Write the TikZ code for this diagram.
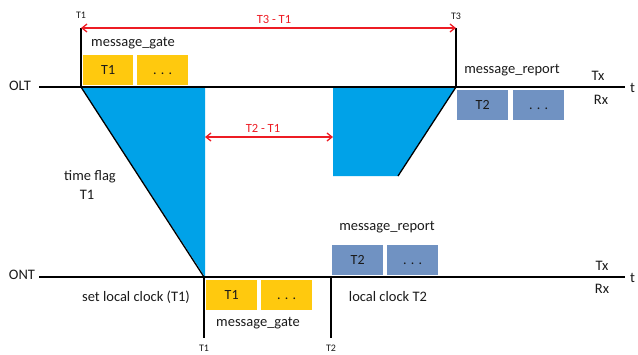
\documentclass[tikz,border=0pt]{standalone}
\usepackage{fontspec}
\setmainfont{Carlito}
\usetikzlibrary{arrows.meta}
\definecolor{gold}{HTML}{FFC90E}
\definecolor{sky}{HTML}{00A2E8}
\definecolor{steel}{HTML}{7092C2}
\definecolor{redline}{HTML}{ED1C24}
\definecolor{txt}{HTML}{1A1A1A}
\tikzset{
  lbl/.style={font=\fontsize{14.5}{17}\selectfont, text=txt, inner sep=0pt},
  tick/.style={font=\fontsize{10}{12}\selectfont, text=txt, inner sep=0pt},
  redlbl/.style={font=\fontsize{12.5}{15}\selectfont, text=redline, inner sep=0pt},
  axis/.style={line width=1.5pt, black},
  marker/.style={line width=1.3pt, black},
  gatebox/.style={fill=gold, draw=none, minimum width=50pt, minimum height=30pt, inner sep=0pt, text height=9pt, text depth=0pt, anchor=north west, font=\fontsize{14}{16}\selectfont, text=txt},
  repbox/.style={fill=steel, draw=none, minimum width=51pt, minimum height=30pt, inner sep=0pt, text height=9pt, text depth=0pt, anchor=north west, font=\fontsize{14}{16}\selectfont, text=txt},
  span/.style={redline, line width=1.3pt, {Straight Barb[length=5pt,width=8pt]}-{Straight Barb[length=5pt,width=8pt]}},
  slope/.style={line width=1.3pt, black},
}
\begin{document}
\begin{tikzpicture}[x=1pt,y=-1pt]
\useasboundingbox (0,0) rectangle (638,354);
% key points
\coordinate (oltL) at (39,87);
\coordinate (oltR) at (625,87);
\coordinate (ontL) at (39,277);
\coordinate (ontR) at (625,277);
\coordinate (t1top) at (81,28);
\coordinate (t1olt) at (81,87);
\coordinate (t3top) at (456,28);
\coordinate (t3olt) at (456,87);
\coordinate (t1ont) at (204,277);
\coordinate (t1bot) at (204,338);
\coordinate (t2ont) at (331,277);
\coordinate (t2bot) at (331,338);
% blue shapes
\fill[sky] (81,87) -- (205,87) -- (205,277) -- cycle;
\fill[sky] (333,87) -- (456,87) -- (398,176) -- (333,176) -- cycle;
\draw[slope] (t1olt) -- (t1ont);
\draw[slope] (t3olt) -- (398,176);
% axes
\draw[axis] (oltL) -- (oltR);
\draw[axis] (ontL) -- (ontR);
\node[lbl, anchor=west] (tolt) at (630,88) {t};
\node[lbl, anchor=west] (tont) at (630,278) {t};
\node[lbl] (olt) at (20,86) {OLT};
\node[lbl] (ont) at (22,275) {ONT};
% time markers
\draw[marker] (t1top) -- (t1olt);
\draw[marker] (t3top) -- (t3olt);
\draw[marker] (t1ont) -- (t1bot);
\draw[marker] (t2ont) -- (t2bot);
\node[tick] (lt1a) at (81,15) {T1};
\node[tick] (lt3) at (456,16) {T3};
\node[tick] (lt1b) at (204,348) {T1};
\node[tick] (lt2) at (331,348) {T2};
% red spans
\draw[span] (t1top) -- (t3top);
\node[redlbl] (s31) at (274,19) {T3 - T1};
\coordinate (s21a) at (205,137);
\coordinate (s21b) at (333,137);
\draw[span] (s21a) -- (s21b);
\node[redlbl] (s21) at (263,128) {T2 - T1};
% OLT boxes
\node[lbl] (mg1) at (133,43) {message\_gate};
\node[gatebox] (g1) at (83,55) {T1};
\node[gatebox, minimum width=51pt] (g2) at (137,55) {. . .};
\node[lbl] (mr1) at (512,70) {message\_report};
\node[repbox] (r1) at (457,90) {T2};
\node[repbox] (r2) at (513,90) {. . .};
\node[lbl] (tx1) at (598,76) {Tx};
\node[lbl] (rx1) at (601,100) {Rx};
% middle
\node[lbl] (tf) at (90,177) {time flag};
\node[lbl] (tf2) at (87,195) {T1};
% ONT boxes
\node[lbl] (mr2) at (387,227) {message\_report};
\node[repbox] (r3) at (332,245) {T2};
\node[repbox] (r4) at (387,245) {. . .};
\node[lbl] (tx2) at (602,266) {Tx};
\node[lbl] (rx2) at (602,289) {Rx};
\node[gatebox, minimum width=51pt] (g3) at (206,280) {T1};
\node[gatebox, minimum width=51pt] (g4) at (261,280) {. . .};
\node[lbl] (mg2) at (258,323) {message\_gate};
\node[lbl] (slc) at (136,297) {set local clock (T1)};
\node[lbl] (lc2) at (388,297) {local clock T2};
\end{tikzpicture}
\end{document}
